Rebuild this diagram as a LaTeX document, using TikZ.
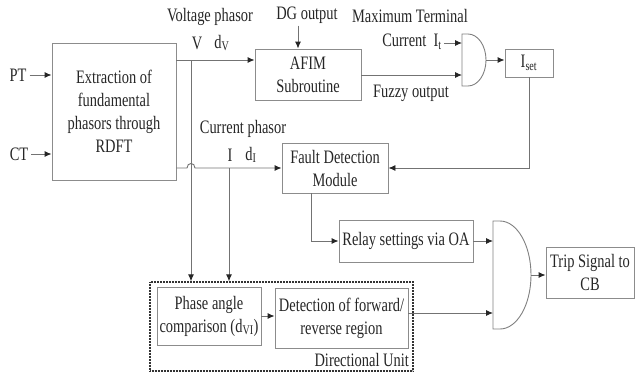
\documentclass[tikz,border=0pt]{standalone}
\usepackage{fontspec}
\setmainfont{Liberation Serif}[FakeStretch=0.76]
\usetikzlibrary{arrows.meta}
\begin{document}
\begin{tikzpicture}[x=1pt,y=-1pt,
  font=\fontsize{19}{23}\selectfont,
  line/.style={draw=black!55, line width=0.9pt},
  arr/.style={line, -{Latex[length=7pt,width=6pt,color=black!85]}},
  box/.style={draw=black!45, line width=0.9pt, align=center, inner sep=0pt, text=black!85},
  lbl/.style={inner sep=0pt, text=black!85, align=center},
  gate/.style={draw=black!50, line width=0.9pt},
  dirbox/.style={draw=black!80, line width=1.3pt, dash pattern=on 1pt off 0.5pt, inner sep=0pt}
]
\useasboundingbox (0,0) rectangle (636,378);

% boxes
\node[box, minimum width=124pt, minimum height=137pt] (ext) at (114,111.5) {Extraction of\\fundamental\\phasors through\\RDFT};
\node[box, minimum width=106pt, minimum height=51pt] (afim) at (308,74.5) {AFIM\\Subroutine};
\node[box, minimum width=48pt, minimum height=28pt] (iset) at (529,63) {I\textsubscript{set}};
\node[box, minimum width=106pt, minimum height=50pt] (fault) at (335,168) {Fault Detection\\Module};
\node[box, minimum width=134pt, minimum height=42pt] (relay) at (406,241) {Relay settings via OA};
\node[box, minimum width=88pt, minimum height=51pt] (trip) at (590,272.5) {Trip Signal to\\CB};
\node[dirbox, minimum width=263pt, minimum height=89pt] (dir) at (281.5,326.5) {};
\node[box, minimum width=104pt, minimum height=58pt] (phase) at (209,316) {Phase angle\\comparison (d\textsubscript{VI})};
\node[box, minimum width=133pt, minimum height=60pt] (det) at (341.5,318) {Detection of forward/\\reverse region};
\node[lbl, anchor=east] (dirl) at (409,360) {Directional Unit};

% labels
\node[lbl] (pt) at (18,75) {PT};
\node[lbl] (ct) at (19,154) {CT};
\node[lbl] (vp) at (210,17) {Voltage phasor};
\node[lbl] (v) at (197,43) {V};
\node[lbl] (dv) at (222,43) {d\textsubscript{V}};
\node[lbl] (cp) at (243,129) {Current phasor};
\node[lbl] (i) at (230,155) {I};
\node[lbl] (di) at (251,155) {d\textsubscript{I}};
\node[lbl] (dg) at (307,15) {DG output};
\node[lbl] (mt) at (410,16) {Maximum Terminal};
\node[lbl] (it) at (412,42) {Current\ \ I\textsubscript{t}};
\node[lbl] (fz) at (411,93) {Fuzzy output};

% gates
\draw[gate] (462,34) -- (468,34) .. controls (477.9,34) and (486,45.6) .. (486,60)
  .. controls (486,74.4) and (477.9,86) .. (468,86) -- (462,86) -- cycle;
\coordinate (g1a) at (462,43);
\coordinate (g1b) at (462,75);
\coordinate (g1o) at (486,60);
\draw[gate] (493,221) -- (500,221) .. controls (517.1,221) and (531,245.2) .. (531,275)
  .. controls (531,304.8) and (517.1,329) .. (500,329) -- (493,329) -- cycle;
\coordinate (g2a) at (493,241);
\coordinate (g2b) at (493,313);
\coordinate (g2o) at (531,275);

\coordinate (vtap) at (191,60);
\coordinate (itap) at (229,168);

% connectors
\draw[arr] (pt.east) ++(3,0) -- (ext.west |- pt.east);
\draw[arr] (ct.east) ++(3,0) -- (ext.west |- ct.east);
\draw[arr] (ext.east |- vtap) -- (afim.west |- vtap);
\draw[arr] (ext.east |- fault.west) -- (187,168) .. controls (187,162) and (195,162) .. (195,168) -- (fault.west);
\draw[arr] (vtap) -- (dir.north -| vtap);
\draw[arr] (itap) -- (dir.north -| itap);
\draw[arr] (dg.south -| 298,0) ++(0,2) -- (afim.north -| 298,0);
\draw[arr] (it.east) ++(2,1) -- (g1a);
\draw[arr] (afim.east |- g1b) -- (g1b);
\draw[arr] (g1o) -- (iset.west |- g1o);
\draw[arr] (iset.south) |- (fault.east);
\draw[arr] (fault.south -| 311,0) |- (relay.west);
\draw[arr] (relay.east |- g2a) -- (g2a);
\draw[arr] (phase.east) -- (phase.east -| det.west);
\draw[arr] (det.east |- g2b) -- (g2b);
\draw[arr] (g2o) -- (trip.west |- g2o);
\end{tikzpicture}
\end{document}
